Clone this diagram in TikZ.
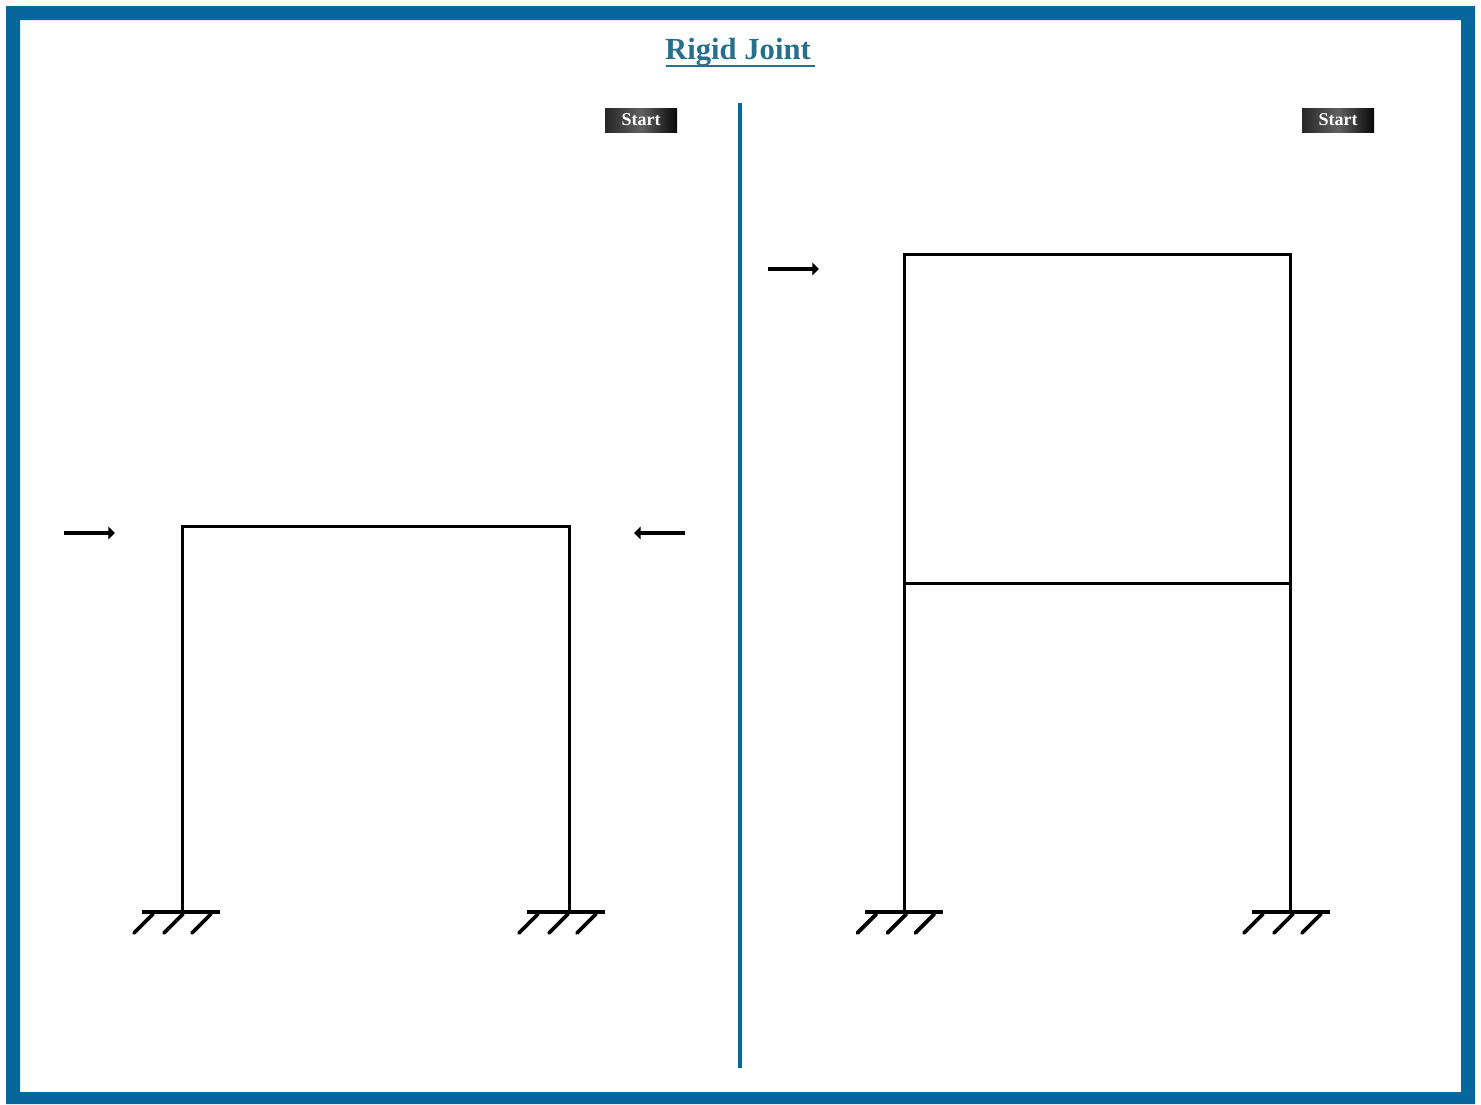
\documentclass[tikz,border=0pt]{standalone}
\usepackage{fontspec}
\setmainfont{Liberation Serif}
\usetikzlibrary{arrows.meta}
\definecolor{frameblue}{RGB}{5,103,155}
\definecolor{titleblue}{RGB}{38,112,140}
\tikzset{
  x=0.75pt,y=-0.75pt,
  member/.style={line width=2.25pt,black,line join=miter},
  load/.style={line width=3.6pt,black,-{Triangle[length=5pt,width=9.5pt]}},
  divider/.style={line width=3pt,frameblue},
  startbtn/.style={minimum width=54pt,minimum height=18pt,inner sep=0pt,left color=black!85,right color=black!97,middle color=black!62,text=white,font=\bfseries\fontsize{13.5}{13.5}\selectfont},
  ttl/.style={text=titleblue,inner sep=0pt,font=\bfseries\fontsize{23}{23}\selectfont},
  pics/support/.style={code={
    \draw[line width=2.4pt] (-40,0) -- (38,0);
    \foreach \d in {-29,1,29}{\draw[line width=2.8pt,line cap=round] (\d,2) -- (\d-19,21);}
  }}
}
\begin{document}
\begin{tikzpicture}
\useasboundingbox (0,0) rectangle (1481,1104);
\fill[white] (0,0) rectangle (1481,1104);
\fill[frameblue,even odd rule] (6,6) rectangle (1475,1104) (20,20) rectangle (1461,1092);
% title
\node[ttl,anchor=base] (title) at (738,59) {Rigid Joint};
\coordinate (ula) at (666,66);
\coordinate (ulb) at (815,66);
\draw[titleblue,line width=1pt] (ula) -- (ulb);
% divider
\coordinate (dtop) at (740,103);
\coordinate (dbot) at (740,1068);
\draw[divider] (dtop) -- (dbot);
% buttons
\node[startbtn] (startA) at (641,120) {Start};
\node[startbtn] (startB) at (1338,120) {Start};
% left frame
\coordinate (a1) at (182,912);
\coordinate (a2) at (182,526);
\coordinate (a3) at (569,526);
\coordinate (a4) at (569,912);
\draw[member] (a1) -- (a2) -- (a3) -- (a4);
\pic at (a1) {support};
\pic at ([xshift=-1.5pt]a4) {support};
% right frame
\coordinate (b1) at (904,912);
\coordinate (b2) at (904,254);
\coordinate (b3) at (1290,254);
\coordinate (b4) at (1290,912);
\coordinate (b5) at (904,583);
\coordinate (b6) at (1290,583);
\draw[member] (b1) -- (b2) -- (b3) -- (b4);
\draw[member] (b5) -- (b6);
\pic at ([xshift=1pt]b1) {support};
\pic at ([xshift=1.5pt]b4) {support};
% loads
\coordinate (la) at (64,533);
\coordinate (lb) at (115,533);
\draw[load] (la) -- (lb);
\coordinate (ra) at (685,533);
\coordinate (rb) at (634,533);
\draw[load] (ra) -- (rb);
\coordinate (ta) at (768,269);
\coordinate (tb) at (819,269);
\draw[load] (ta) -- (tb);
\end{tikzpicture}
\end{document}
